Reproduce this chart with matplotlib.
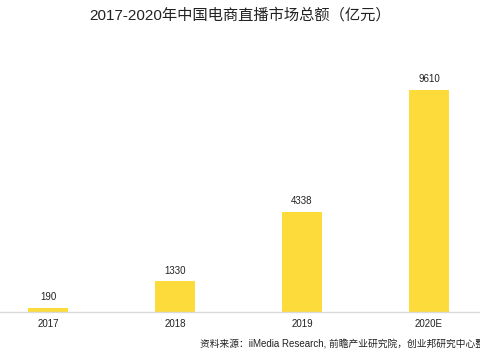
import matplotlib
matplotlib.use("Agg")
import matplotlib.pyplot as plt

plt.rcParams['font.family'] = ['Liberation Sans', 'Noto Sans CJK SC', 'DejaVu Sans']

years = ['2017', '2018', '2019', '2020E']
totals = [190, 1330, 4338, 9610]
title = '2017-2020年中国电商直播市场总额（亿元）'
source = '资料来源：iiMedia Research, 前瞻产业研究院，创业邦研究中心整理'

fig = plt.figure(figsize=(4.8, 3.6), dpi=100)
ax = fig.add_axes([0, 48 / 360, 1, 222 / 360])

x = list(range(len(years)))
bars = ax.bar(x, totals, width=0.315, color='#FCDB3A')
for xi, v in zip(x, totals):
    ax.annotate(str(v), (xi, v), xytext=(0, 4), textcoords='offset points',
                ha='center', va='bottom', fontsize=7, color='#222222',
                annotation_clip=False)

ax.set_xlim(-0.378, 3.402)
ax.set_ylim(0, 9610)
ax.set_xticks(x)
ax.set_xticklabels(years, fontsize=7, color='#222222')
ax.tick_params(axis='x', length=0, pad=5)
ax.set_yticks([])
for s in ['top', 'right', 'left']:
    ax.spines[s].set_visible(False)
ax.spines['bottom'].set_color('#d9d9d9')
ax.spines['bottom'].set_linewidth(1)

fig.text(0.5, 1 - 15 / 360, title, ha='center', va='center', fontsize=11, color='#222222')
fig.text(200 / 480, 1 - 344 / 360, source, ha='left', va='center', fontsize=7, color='#222222')

fig.savefig('out.png', dpi=100)
